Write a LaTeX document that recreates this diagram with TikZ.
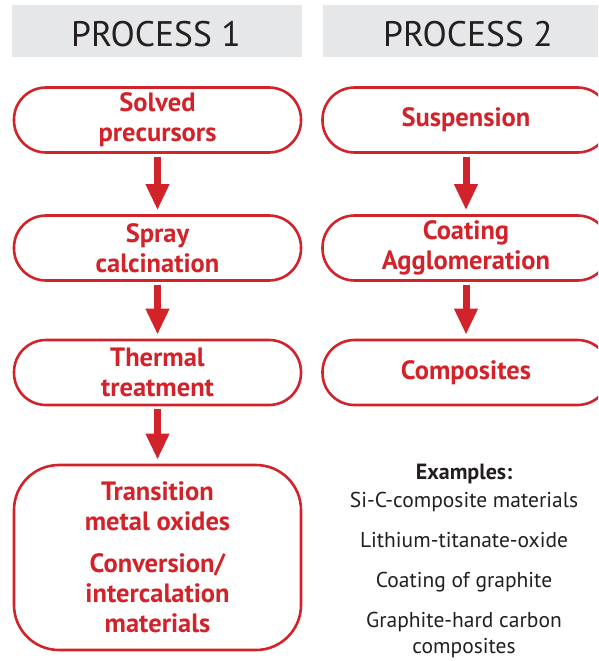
\documentclass[tikz,border=0pt]{standalone}
\usepackage{fontspec}
\setmainfont{PT Sans}
\usetikzlibrary{arrows.meta}
\definecolor{pred}{HTML}{D2232A}
\definecolor{pgray}{HTML}{E6E7E8}
\definecolor{ptext}{HTML}{231F20}
\tikzset{
  stepbox/.style={draw=pred, line width=2.6pt, fill=white, rounded corners=32pt,
     minimum width=287pt, minimum height=65pt, inner sep=0pt, align=center,
     text=pred, font=\bfseries\fontsize{26.5}{30}\selectfont},
  bigbox/.style={stepbox, rounded corners=45pt, minimum height=185pt},
  flow/.style={draw=pred, line width=7pt, -{Triangle[length=26pt,width=22pt]}, shorten <=3pt, shorten >=4pt},
  extxt/.style={text=ptext, inner sep=0pt, font=\fontsize{21.5}{24}\selectfont, anchor=base},
  headtxt/.style={text=ptext, inner sep=0pt, font=\fontsize{35.5}{40}\selectfont},
}
\begin{document}
\begin{tikzpicture}[x=1pt,y=-1pt]
\clip (0,0) rectangle (598,661);
\fill[white] (0,0) rectangle (598,661);
% headers
\fill[pgray] (12,5) rectangle (302,57);
\fill[pgray] (323,5) rectangle (620,57);
\node[headtxt] (h1) at (156,34) {PROCESS 1};
\node[headtxt] (h2) at (468,34) {PROCESS 2};
% process 1
\node[stepbox] (a1) at (157.5,120) {Solved\\precursors};
\node[stepbox] (a2) at (157.5,248) {Spray\\calcination};
\node[stepbox] (a3) at (157.5,372.5) {Thermal\\treatment};
\node[bigbox]  (a4) at (157.5,557.5) {Transition\\metal oxides\\[12pt]Conversion/\\intercalation\\materials};
% process 2
\node[stepbox] (b1) at (466,120) {Suspension};
\node[stepbox] (b2) at (466,248) {Coating\\Agglomeration};
\node[stepbox] (b3) at (466,372.5) {Composites};
% arrows
\draw[flow] (a1) -- (a2);
\draw[flow] (a2) -- (a3);
\draw[flow] (a3) -- (a4);
\draw[flow] (b1) -- (b2);
\draw[flow] (b2) -- (b3);
% examples
\node[extxt, font=\bfseries\fontsize{22}{24}\selectfont] (e0) at (464,479) {Examples:};
\node[extxt] (e1) at (464,507) {Si-C-composite materials};
\node[extxt] (e2) at (464,547) {Lithium-titanate-oxide};
\node[extxt] (e3) at (464,587) {Coating of graphite};
\node[extxt] (e4) at (464,627) {Graphite-hard carbon};
\node[extxt] (e5) at (464,653) {composites};
\end{tikzpicture}
\end{document}
